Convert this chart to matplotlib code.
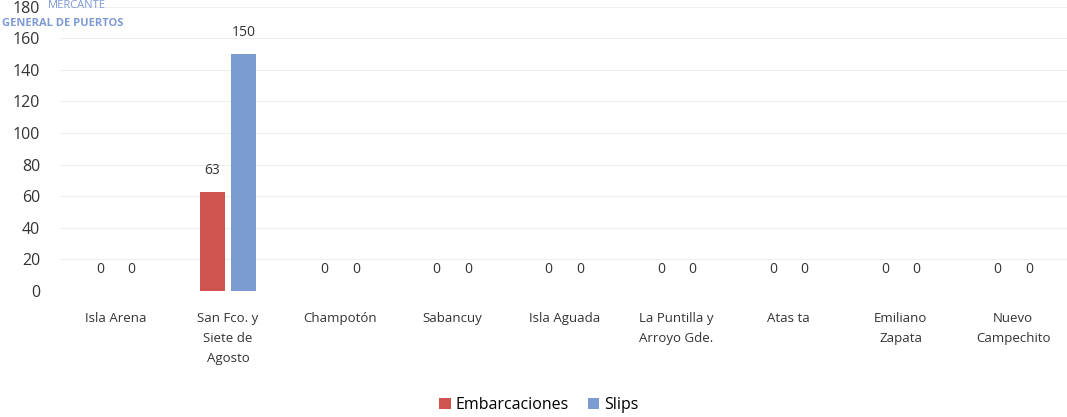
import matplotlib
matplotlib.use("Agg")
import matplotlib.pyplot as plt
import numpy as np

categories = ["Isla Arena", "San Fco. y\nSiete de\nAgosto", "Champotón", "Sabancuy",
              "Isla Aguada", "La Puntilla y\nArroyo Gde.", "Atas ta", "Emiliano\nZapata", "Nuevo\nCampechito"]
embarcaciones = [0, 63, 0, 0, 0, 0, 0, 0, 0]
slips = [0, 150, 0, 0, 0, 0, 0, 0, 0]
yticks = [0, 20, 40, 60, 80, 100, 120, 140, 160, 180]

plt.rcParams['font.family'] = ['Open Sans', 'DejaVu Sans']

fig = plt.figure(figsize=(10.67, 4.17), dpi=100)
ax = fig.add_axes([0.056, 0.302, 0.946, 0.682])

x = np.arange(len(categories))
w = 0.22
off = 0.14
red = '#cf5450'
blue = '#7c9bd0'
b1 = ax.bar(x - off, embarcaciones, w, color=red, label='Embarcaciones')
b2 = ax.bar(x + off, slips, w, color=blue, label='Slips')

for xi, v in zip(x - off, embarcaciones):
    ax.annotate(str(v), (xi, v), xytext=(0, 10), textcoords='offset points',
                ha='center', va='bottom', fontsize=10, color='#333333')
for xi, v in zip(x + off, slips):
    ax.annotate(str(v), (xi, v), xytext=(0, 10), textcoords='offset points',
                ha='center', va='bottom', fontsize=10, color='#333333')

ax.set_xlim(-0.5, len(categories) - 0.5)
ax.set_ylim(0, 180)
ax.set_yticks(yticks)
ax.set_yticklabels([str(t) for t in yticks], fontsize=11.5, color='#333333')
ax.set_xticks(x)
ax.set_xticklabels(categories, fontsize=9.5, color='#333333', linespacing=1.7)
ax.tick_params(axis='both', length=0)
ax.tick_params(axis='x', pad=15)
ax.tick_params(axis='y', pad=14)
for s in ax.spines.values():
    s.set_visible(False)
ax.grid(axis='y', color='#eeeeee', linewidth=0.8)
ax.set_axisbelow(True)

fig.legend(handles=[b1, b2], loc='center', bbox_to_anchor=(0.505, 0.028), ncol=2,
           frameon=False, fontsize=11.5, handlelength=0.7, handleheight=0.7,
           handletextpad=0.3, columnspacing=1.2)

fig.text(0.045, 0.999, "MERCANTE", color='#6f8fd0', fontsize=8, ha='left', va='top',
         alpha=0.9)
fig.text(0.002, 0.958, "GENERAL DE PUERTOS", color='#6f8fd0', fontsize=8,
         ha='left', va='top', fontweight='bold', alpha=0.9)

fig.savefig("out.png", dpi=100)
